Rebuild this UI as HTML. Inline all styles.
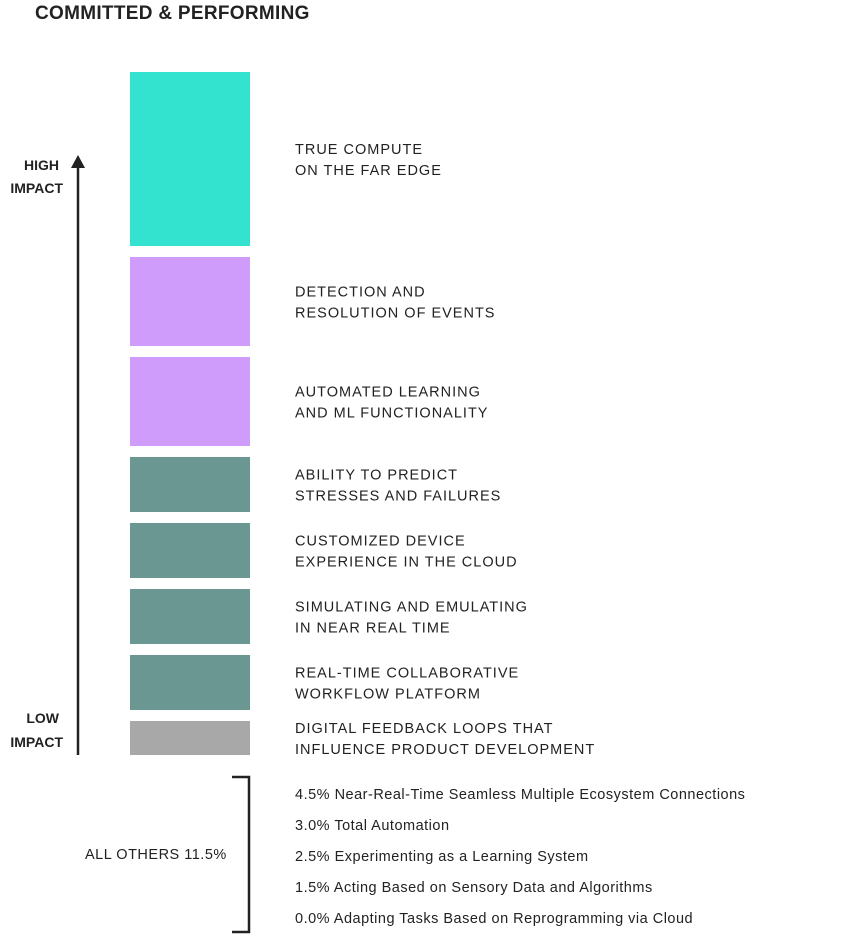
<!DOCTYPE html>
<html><head><meta charset="utf-8"><style>
body{margin:0;background:#fff;}
svg text{font-family:"Liberation Sans",sans-serif;fill:#222;}
</style></head><body>
<svg id="chart" width="864" height="935" viewBox="0 0 864 935" xmlns="http://www.w3.org/2000/svg">
<text x="35" y="19" font-size="19" font-weight="bold" letter-spacing="0.3">COMMITTED &amp; PERFORMING</text>
<text font-size="14" font-weight="bold" text-anchor="end"><tspan x="59" y="170">HIGH</tspan><tspan x="63" y="193">IMPACT</tspan></text>
<text font-size="14" font-weight="bold" text-anchor="end"><tspan x="59" y="723">LOW</tspan><tspan x="63" y="747">IMPACT</tspan></text>
<line x1="78" y1="165" x2="78" y2="755" stroke="#222" stroke-width="2.5"/>
<polygon points="78,155 71,168 85,168" fill="#222"/>
<g id="bars"></g>
<path d="M232,777 H249 V932 H232" fill="none" stroke="#222" stroke-width="2.5"/>
<text x="85" y="859" font-size="14.5" letter-spacing="0.5">ALL OTHERS 11.5%</text>
<g id="others"></g>
</svg>
<script>
const categories=[["TRUE COMPUTE","ON THE FAR EDGE"],["DETECTION AND","RESOLUTION OF EVENTS"],["AUTOMATED LEARNING","AND ML FUNCTIONALITY"],["ABILITY TO PREDICT","STRESSES AND FAILURES"],["CUSTOMIZED DEVICE","EXPERIENCE IN THE CLOUD"],["SIMULATING AND EMULATING","IN NEAR REAL TIME"],["REAL-TIME COLLABORATIVE","WORKFLOW PLATFORM"],["DIGITAL FEEDBACK LOOPS THAT","INFLUENCE PRODUCT DEVELOPMENT"]];
const values=[17.4,8.9,8.9,5.5,5.5,5.5,5.5,3.4];
const colors=["#33e3d0","#d09cfc","#d09cfc","#6a9791","#6a9791","#6a9791","#6a9791","#a8a8a8"];
const otherValues=[4.5,3.0,2.5,1.5,0.0];
const otherLabels=["Near-Real-Time Seamless Multiple Ecosystem Connections","Total Automation","Experimenting as a Learning System","Acting Based on Sensory Data and Algorithms","Adapting Tasks Based on Reprogramming via Cloud"];
const NS="http://www.w3.org/2000/svg";
const scale=v=>v*10;
const bars=document.getElementById('bars');
let y=72;
values.forEach((v,i)=>{
  const h=scale(v);
  const r=document.createElementNS(NS,'rect');
  
  
  r.setAttribute('x',130);r.setAttribute('y',y);r.setAttribute('width',120);r.setAttribute('height',h);r.setAttribute('fill',colors[i]);
  bars.appendChild(r);
  const c=y+h/2;
  const t=document.createElementNS(NS,'text');
  
  
  t.setAttribute('font-size','14.5');t.setAttribute('letter-spacing','1');
  categories[i].forEach((s,k)=>{const ts=document.createElementNS(NS,'tspan');ts.setAttribute('x',295);ts.setAttribute('y',c-5+k*21);ts.textContent=s;t.appendChild(ts);});
  bars.appendChild(t);
  y+=h+11;
});
const others=document.getElementById('others');
otherValues.forEach((v,i)=>{
  const t=document.createElementNS(NS,'text');
  
  
  t.setAttribute('x',295);t.setAttribute('y',799+i*31);t.setAttribute('font-size','14.5');t.setAttribute('letter-spacing','0.5');
  t.textContent=v.toFixed(1)+'% '+otherLabels[i];
  others.appendChild(t);
});
</script>
</body></html>
